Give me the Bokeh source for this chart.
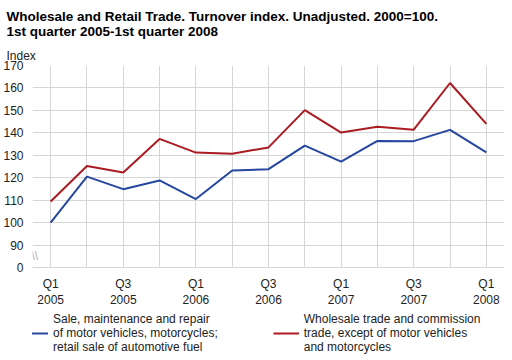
from bokeh.plotting import figure
from bokeh.models import (Range1d, FixedTicker, Legend, LegendItem, Title, Label)
from bokeh.layouts import column
from bokeh.embed import file_html
from bokeh.resources import INLINE

# ---- data ----
quarter_index = list(range(13))
quarter_labels = ["Q1 2005", "Q2 2005", "Q3 2005", "Q4 2005",
                  "Q1 2006", "Q2 2006", "Q3 2006", "Q4 2006",
                  "Q1 2007", "Q2 2007", "Q3 2007", "Q4 2007", "Q1 2008"]
tick_text = {0: "Q1\n2005", 2: "Q3\n2005", 4: "Q1\n2006", 6: "Q3\n2006",
             8: "Q1\n2007", 10: "Q3\n2007", 12: "Q1\n2008"}
sale_motor = [100.0, 120.5, 114.9, 118.8, 110.5, 123.2, 123.8,
              134.3, 127.2, 136.4, 136.3, 141.3, 131.3]
wholesale = [109.4, 125.2, 122.3, 137.3, 131.2, 130.7, 133.5,
             150.1, 140.1, 142.7, 141.4, 162.2, 144.0]
y_ticks = [80, 90, 100, 110, 120, 130, 140, 150, 160, 170]
series_names = ["Sale, maintenance and repair\nof motor vehicles, motorcycles;\nretail sale of automotive fuel",
                "Wholesale trade and commission\ntrade, except of motor vehicles\nand motorcycles"]
colors = ["#26479f", "#aa1b22"]

FONT = "Liberation Sans"
GRID = "#d6d6d6"
W = 504

# ---- main chart (with titles) ----
p = figure(width=W, height=310, output_backend="svg", toolbar_location=None,
           x_range=Range1d(-0.5, 12.5), y_range=Range1d(80, 170),
           min_border_left=0, min_border_right=0, min_border_top=0,
           min_border_bottom=36)
p.title = None
p.outline_line_color = None

r1 = p.line(quarter_index, sale_motor, line_color=colors[0], line_width=2)
r2 = p.line(quarter_index, wholesale, line_color=colors[1], line_width=2)

p.xaxis.ticker = FixedTicker(ticks=quarter_index)
p.xaxis.major_label_overrides = {i: tick_text.get(i, "") for i in quarter_index}
p.yaxis.ticker = FixedTicker(ticks=y_ticks)
p.yaxis.major_label_overrides = {80: "0"}
for ax in (p.xaxis[0], p.yaxis[0]):
    ax.major_tick_line_color = None
    ax.minor_tick_line_color = None
    ax.major_label_text_font = FONT
    ax.major_label_text_font_size = "12px"
    ax.major_label_text_color = "#222222"
p.yaxis.axis_line_color = None
p.xaxis.axis_line_color = GRID
p.yaxis.major_label_standoff = 3
p.xaxis.major_label_standoff = 3
p.xgrid.grid_line_color = GRID
p.ygrid.grid_line_color = GRID

# titles (later added sits higher)
p.add_layout(Title(text="Index", align="left", offset=-26, text_font=FONT,
                   text_font_size="12px", text_font_style="normal",
                   text_color="#222222", standoff=5), "above")
p.add_layout(Title(text="Wholesale and Retail Trade. Turnover index. Unadjusted. 2000=100.\n1st quarter 2005-1st quarter 2008",
                   align="left", offset=-26, text_font=FONT, text_font_size="13.5px",
                   text_font_style="bold", text_color="#000000", standoff=12), "above")

# axis break mark
p.add_layout(Label(x=-0.5, y=82, text="\\\\", x_offset=-1, text_font=FONT,
                   text_font_size="12px", text_color="#b0b0b0"))

# ---- legend strip ----
pl = figure(width=W, height=47, output_backend="svg", toolbar_location=None,
            x_axis_type=None, y_axis_type=None, x_range=Range1d(0, 1),
            y_range=Range1d(0, 1), min_border_left=0, min_border_right=0,
            min_border_top=0, min_border_bottom=1,
            background_fill_color="white", border_fill_color="white")
pl.title = None
pl.outline_line_color = None
pl.xgrid.visible = False
pl.ygrid.visible = False
l1 = pl.line(quarter_index, sale_motor, line_color=colors[0], line_width=2)
l2 = pl.line(quarter_index, wholesale, line_color=colors[1], line_width=2)
legend = Legend(items=[LegendItem(label=series_names[0], renderers=[l1]),
                       LegendItem(label=series_names[1], renderers=[l2])],
                orientation="horizontal", location=(-10, 2),
                border_line_color=None, background_fill_alpha=0,
                label_text_font=FONT, label_text_font_size="12px",
                label_text_color="#222222", label_standoff=5,
                glyph_width=26, glyph_height=12, spacing=55, padding=0,
                margin=0)
pl.add_layout(legend)

layout = column(p, pl, spacing=0)
open("out.html", "w").write(file_html(layout, INLINE))
